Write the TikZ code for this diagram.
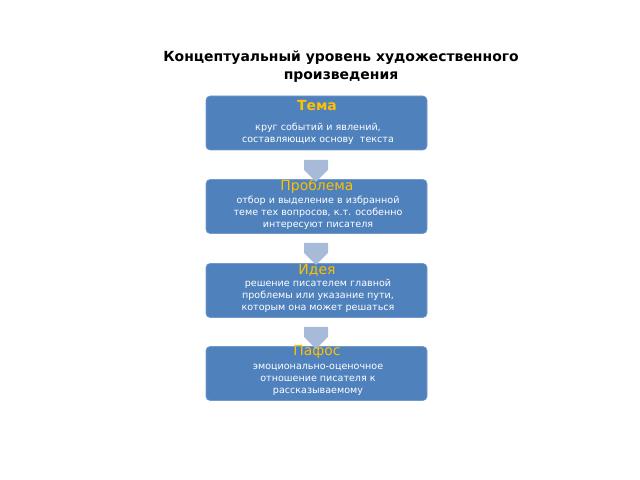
\documentclass[tikz,border=0pt]{standalone}
\usepackage{fontspec}
\setmainfont{DejaVu Sans}
\usetikzlibrary{shapes.arrows}
\definecolor{boxBlue}{RGB}{79,129,189}
\definecolor{headYellow}{RGB}{255,192,0}
\definecolor{arrowBlue}{RGB}{167,186,216}
\begin{document}
\begin{tikzpicture}[x=0.02646cm, y=-0.02646cm]
        \tikzstyle{boxStyle} = [rounded corners=3pt, fill=boxBlue, draw=boxBlue!80!white, minimum width=221*0.02646cm, minimum height=54*0.02646cm]
        \tikzstyle{headStyle} = [text=headYellow, font=\fontsize{10.5}{12}\selectfont]
        \tikzstyle{bodyStyle} = [text=white, align=center, font=\fontsize{7.2}{9}\selectfont]
        \tikzstyle{arrowStyle} = [single arrow, fill=arrowBlue, draw=none, rotate=-90, minimum height=22*0.02646cm, minimum width=24*0.02646cm, single arrow head extend=0pt, inner sep=3pt]
        \useasboundingbox (0,0) rectangle (640,480);
        \node[align=center, font=\bfseries\fontsize{10.5}{13.5}\selectfont] (title) at (341,67) {Концептуальный уровень художественного\\произведения};
        \node[boxStyle] (1) at (316.5,123) {};
        \node[boxStyle] (2) at (316.5,206.5) {};
        \node[boxStyle] (3) at (316.5,290.5) {};
        \node[boxStyle] (4) at (316.5,373.5) {};
        \node[headStyle, font=\bfseries\fontsize{10.5}{12}\selectfont] (h1) at (317,106) {Тема};
        \node[bodyStyle] (b1) at (318,134) {круг событий и явлений,\\составляющих основу\ \ текста};
        \node[headStyle] (h2) at (317,187) {Проблема};
        \node[bodyStyle] (b2) at (318,213) {отбор и выделение в избранной\\теме тех вопросов, к.т. особенно\\интересуют писателя};
        \node[headStyle] (h3) at (317,270) {Идея};
        \node[bodyStyle] (b3) at (318,296) {решение писателем главной\\проблемы или указание пути,\\которым она может решаться};
        \node[headStyle] (h4) at (317,352) {Пафос};
        \node[bodyStyle] (b4) at (318,380) {эмоционально-оценочное\\отношение писателя к\\рассказываемому};
        \foreach \a/\y in {a1/165, a2/248, a3/332}
            \node[arrowStyle] (\a) at (316,\y) {};
    \end{tikzpicture}
\end{document}
